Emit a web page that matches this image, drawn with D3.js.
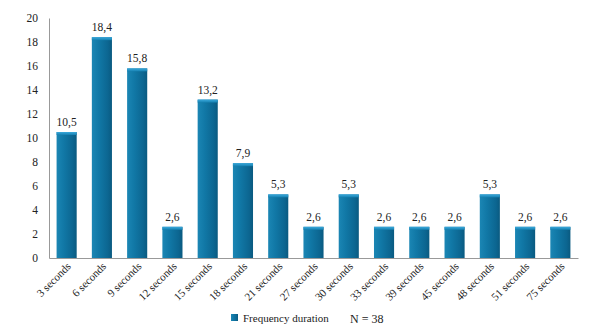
<!DOCTYPE html>
<html><head><meta charset="utf-8">
<script src="https://cdn.jsdelivr.net/npm/d3@7"></script>
<style>body{margin:0;background:#fff}svg{display:block}svg text{font-family:"Liberation Serif","Times New Roman",Times,"DejaVu Serif",serif !important;fill:#222}</style>
</head><body>
<svg id="c" width="600" height="333"></svg>
<script>
const categories=["3 seconds","6 seconds","9 seconds","12 seconds","15 seconds","18 seconds","21 seconds","27 seconds","30 seconds","33 seconds","39 seconds","45 seconds","48 seconds","51 seconds","75 seconds"];
const values=[10.5,18.4,15.8,2.6,13.2,7.9,5.3,2.6,5.3,2.6,2.6,2.6,5.3,2.6,2.6];
const yTicks=[0,2,4,6,8,10,12,14,16,18,20];
const seriesName="Frequency duration";
const note="N = 38";

const svg=d3.select("#c");
const x=d3.scaleBand().domain(categories).range([49,578]).paddingInner(0.43).paddingOuter(0.215);
const y=d3.scaleLinear().domain([0,20]).range([258,18]);

const defs=svg.append("defs");
const g=defs.append("linearGradient").attr("id","bg").attr("x1","0").attr("x2","1").attr("y1","0").attr("y2","0");
g.append("stop").attr("offset","0").attr("stop-color","#1b86b4");
g.append("stop").attr("offset","0.35").attr("stop-color","#1178a6");
g.append("stop").attr("offset","0.8").attr("stop-color","#0c6691");
g.append("stop").attr("offset","1").attr("stop-color","#0a5a80");
const gt=defs.append("linearGradient").attr("id","tg").attr("x1","0").attr("x2","0").attr("y1","0").attr("y2","1");
gt.append("stop").attr("offset","0").attr("stop-color","#3aa9dc");
gt.append("stop").attr("offset","1").attr("stop-color","#1580b0");

const ya=svg.append("g").attr("transform","translate(49,0)").call(d3.axisLeft(y).tickValues(yTicks).tickSize(0).tickPadding(11));
ya.attr("font-family",null);
ya.select(".domain").attr("stroke","#999");
ya.selectAll("text").attr("font-size",11.5).attr("fill","#222");

const bars=svg.append("g");
bars.selectAll("rect.b").data(values).join("rect").attr("class","b")
 .attr("x",(d,i)=>x(categories[i])).attr("width",x.bandwidth())
 .attr("y",d=>y(d)).attr("height",d=>y(0)-y(d)).attr("fill","url(#bg)");
bars.selectAll("rect.t").data(values).join("rect").attr("class","t")
 .attr("x",(d,i)=>x(categories[i])).attr("width",x.bandwidth())
 .attr("y",d=>y(d)).attr("height",3).attr("fill","url(#tg)");

svg.append("g").selectAll("text").data(values).join("text")
 .attr("x",(d,i)=>x(categories[i])+x.bandwidth()/2).attr("y",d=>y(d)-6)
 .attr("text-anchor","middle").attr("font-size",11.5).text(d=>d.toFixed(1).replace(".",","));

const xa=svg.append("g").attr("transform","translate(0,258)").call(d3.axisBottom(x).tickSize(0).tickPadding(0));
xa.attr("font-family",null);
xa.select(".domain").attr("stroke","#999");
xa.selectAll("text").attr("font-size",11).attr("fill","#222")
 .attr("text-anchor","end").attr("dy",null).attr("y",0)
 .attr("transform","translate(5,9) rotate(-45)");

svg.append("rect").attr("x",231).attr("y",314).attr("width",7).attr("height",7).attr("fill","url(#bg)");
svg.append("text").attr("x",243).attr("y",322).attr("font-size",11).text(seriesName);
svg.append("text").attr("x",350).attr("y",323).attr("font-size",12).text(note);
</script>
</body></html>
